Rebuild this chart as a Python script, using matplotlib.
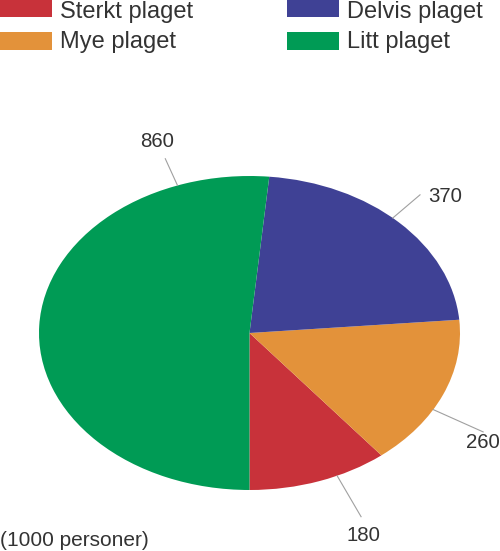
import numpy as np
import matplotlib.pyplot as plt
from matplotlib.patches import Rectangle

plt.rcParams['font.family'] = ['Liberation Sans', 'DejaVu Sans']

labels = ['Sterkt plaget', 'Mye plaget', 'Delvis plaget', 'Litt plaget']
values = [180, 260, 370, 860]
colors = ['#C8323A', '#E3923A', '#3F4195', '#009B55']

W, H = 500, 551
fig = plt.figure(figsize=(W / 100, H / 100), dpi=100)

# pie area in pixels (ellipse, wider than tall)
x0, x1, y0, y1 = 39, 460, 176, 490
ax = fig.add_axes([x0 / W, 1 - y1 / H, (x1 - x0) / W, (y1 - y0) / H])
wedges, _ = ax.pie(values, colors=colors, startangle=270, counterclock=True,
                   wedgeprops=dict(linewidth=0))
ax.set_aspect('auto')
ax.set_xlim(-1, 1)
ax.set_ylim(-1, 1)
ax.axis('off')

# value labels with leader lines (edge angle, line end, text pos)
lab_pos = [(294.6, (0.53, -1.17), (0.54, -1.29)),
           (330.8, (1.11, -0.63), (1.11, -0.70)),
           (47.1, (0.81, 0.88), (0.93, 0.87)),
           (110.0, (-0.40, 1.11), (-0.44, 1.22))]
for v, (ang, lend, tpos) in zip(values, lab_pos):
    a = np.deg2rad(ang)
    ax.plot([np.cos(a), lend[0]], [np.sin(a), lend[1]], color='#a0a0a0',
            lw=0.8, clip_on=False)
    ax.text(tpos[0], tpos[1], str(v), fontsize=14.7, color='#333333',
            ha='center', va='center')

# legend drawn by hand, top row partly cut off
rows = [(-1, 17), (32, 50)]
baselines = [18, 48]
cols = [0, 287]
for i, (lab, c) in enumerate(zip(labels, colors)):
    col = cols[i // 2]
    r0, r1 = rows[i % 2]
    fig.add_artist(Rectangle((col / W, 1 - r1 / H), 52 / W, (r1 - r0) / H,
                             transform=fig.transFigure, color=c, lw=0))
    fig.text((col + 60) / W, 1 - baselines[i % 2] / H, lab, fontsize=17,
             color='#333333', va='baseline', ha='left')

fig.text(0 / W, 1 - 546 / H, '(1000 personer)', fontsize=15, color='#333333',
         va='baseline', ha='left')

fig.savefig('out.png', dpi=100)
